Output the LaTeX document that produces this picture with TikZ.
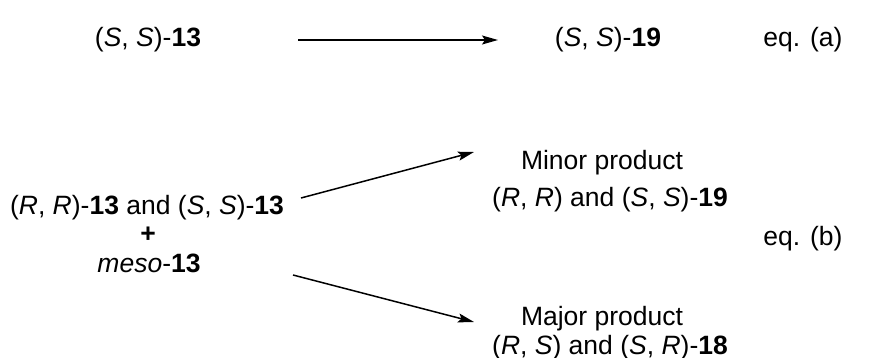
\documentclass[tikz,border=0pt]{standalone}
\usepackage{fontspec}
\setmainfont{Liberation Sans}
\usetikzlibrary{arrows.meta}
\begin{document}
\begin{tikzpicture}[x=1pt,y=-1pt,
  lbl/.style={inner sep=0pt,anchor=base,font=\fontsize{26.5}{32}\selectfont},
  rxn/.style={line width=1.5pt,-{Stealth[length=16pt,width=9pt,inset=3pt]}}]
\useasboundingbox (0,0) rectangle (869,358);
% eq (a)
\node[lbl] (sa) at (148,47) {(\textit{S}, \textit{S})-\textbf{13}};
\node[lbl] (pa) at (608,47) {(\textit{S}, \textit{S})-\textbf{19}};
\node[lbl] (eqa) at (803,47) {eq. (a)};
\coordinate (a1) at (298,40);
\coordinate (a2) at (498,40);
\draw[rxn] (a1) -- (a2);
% eq (b)
\node[lbl] (sb) at (147,214) {(\textit{R}, \textit{R})-\textbf{13} and (\textit{S}, \textit{S})-\textbf{13}};
\node[lbl,anchor=center] (plus) at (148,235) {\textbf{+}};
\node[lbl] (meso) at (149,272) {\textit{meso}-\textbf{13}};
\node[lbl] (minor) at (602,170) {Minor product};
\node[lbl] (pminor) at (610,206) {(\textit{R}, \textit{R}) and (\textit{S}, \textit{S})-\textbf{19}};
\node[lbl] (eqb) at (803,245) {eq. (b)};
\node[lbl] (major) at (602,325) {Major product};
\node[lbl] (pmajor) at (610,354) {(\textit{R}, \textit{S}) and (\textit{S}, \textit{R})-\textbf{18}};
\coordinate (b1) at (301,198);
\coordinate (b2) at (474,152);
\coordinate (c1) at (293,275);
\coordinate (c2) at (474,322);
\draw[rxn] (b1) -- (b2);
\draw[rxn] (c1) -- (c2);
\end{tikzpicture}
\end{document}
